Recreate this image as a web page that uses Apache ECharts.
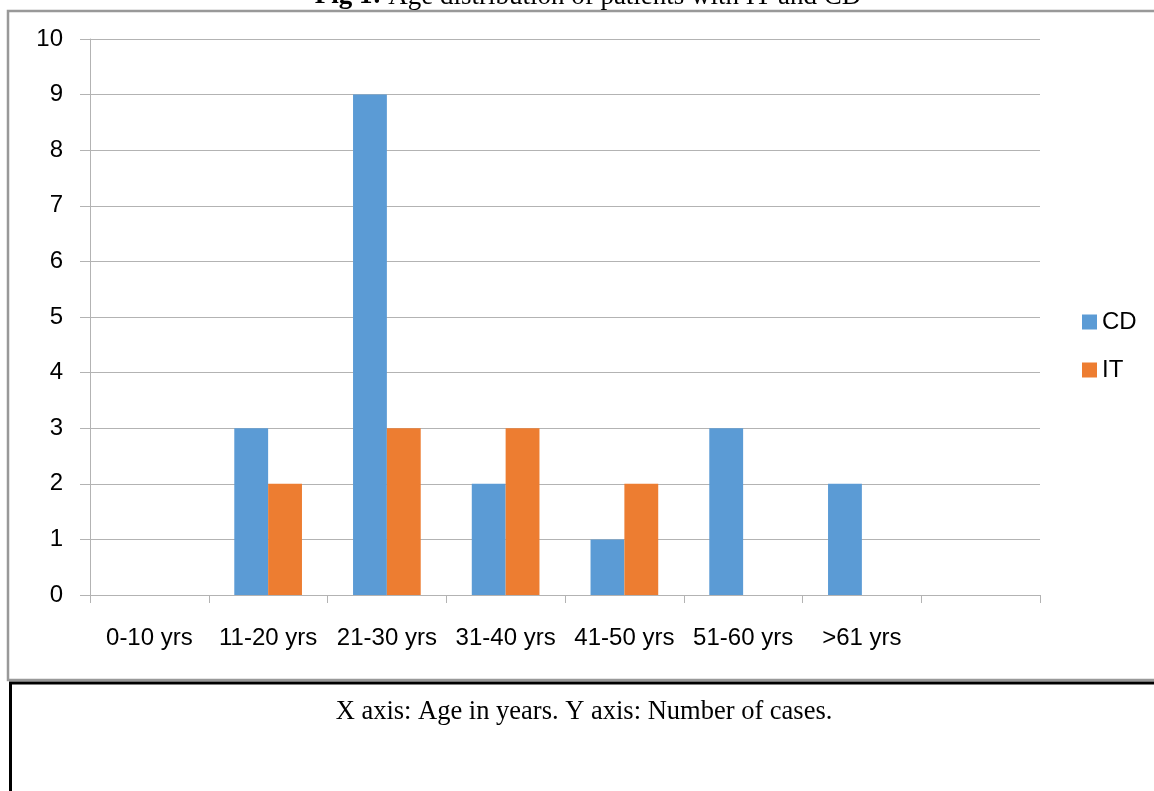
<!DOCTYPE html>
<html>
<head>
<meta charset="utf-8">
<script src="https://cdn.jsdelivr.net/npm/echarts@6/dist/echarts.min.js"></script>
<style>html,body{margin:0;padding:0;background:#fff;}#c{width:1154px;height:791px;}</style>
</head>
<body>
<div id="c"></div>
<script>
var categories = ['0-10 yrs', '11-20 yrs', '21-30 yrs', '31-40 yrs', '41-50 yrs', '51-60 yrs', '>61 yrs', ''];
var cdValues = [0, 3, 9, 2, 1, 3, 2, 0];
var itValues = [0, 2, 3, 3, 2, 0, 0, 0];
var yTicks = [0, 1, 2, 3, 4, 5, 6, 7, 8, 9, 10];

var labelFont = '"Liberation Sans Narrow", "Liberation Sans", sans-serif';
var chart = echarts.init(document.getElementById('c'), null, {renderer: 'canvas'});
chart.setOption({
  animation: false,
  backgroundColor: '#fff',
  grid: {left: 90, right: 114, top: 39, bottom: 196, containLabel: false},
  legend: {
    orient: 'vertical', left: 1082, top: 310, padding: 0,
    itemWidth: 15, itemHeight: 15, itemGap: 24, itemTextGap: 6,
    icon: 'rect',
    textStyle: {fontFamily: labelFont, fontSize: 24, color: '#000'},
    data: ['CD', 'IT']
  },
  xAxis: {
    type: 'category', data: categories,
    axisLine: {lineStyle: {color: '#b3b3b3', width: 1}},
    axisTick: {show: true, length: 8, lineStyle: {color: '#b3b3b3'}},
    axisLabel: {fontFamily: labelFont, fontSize: 24, color: '#000', margin: 31, interval: 0}
  },
  yAxis: {
    type: 'value', min: yTicks[0], max: yTicks[yTicks.length - 1], interval: 1,
    axisLine: {show: true, lineStyle: {color: '#b3b3b3', width: 1}},
    axisTick: {show: true, length: 10, lineStyle: {color: '#b3b3b3'}},
    splitLine: {show: true, lineStyle: {color: '#b3b3b3', width: 1}},
    axisLabel: {fontFamily: labelFont, fontSize: 24, color: '#000', margin: 27}
  },
  series: [
    {name: 'CD', type: 'bar', data: cdValues, barGap: '0%', barCategoryGap: '43%',
     itemStyle: {color: '#5B9BD5'}},
    {name: 'IT', type: 'bar', data: itValues, barGap: '0%', barCategoryGap: '43%',
     itemStyle: {color: '#ED7D31'}}
  ],
  graphic: [
    {type: 'rect', shape: {x: 8, y: 11, width: 1170, height: 669},
     style: {fill: null, stroke: '#999999', lineWidth: 2.5}, silent: true, z: 100},
    {type: 'rect', shape: {x: 10.5, y: 683, width: 1170, height: 200},
     style: {fill: null, stroke: '#000000', lineWidth: 3}, silent: true, z: 100},
    {type: 'text', x: 588, y: 10,
     style: {text: '{b|Fig 1:} Age distribution of patients with IT and CD',
       rich: {b: {fontWeight: 'bold', fontFamily: '"Liberation Serif", serif', fontSize: 27, fill: '#000'}},
       fontFamily: '"Liberation Serif", serif', fontSize: 27, fill: '#000',
       align: 'center', verticalAlign: 'bottom'}, z: 100},
    {type: 'text', x: 584, y: 712,
     style: {text: 'X axis: Age in years. Y axis: Number of cases.',
       fontFamily: '"Liberation Serif", serif', fontSize: 26.5, fill: '#000',
       align: 'center', verticalAlign: 'middle'}, z: 100}
  ]
});
</script>
</body>
</html>
